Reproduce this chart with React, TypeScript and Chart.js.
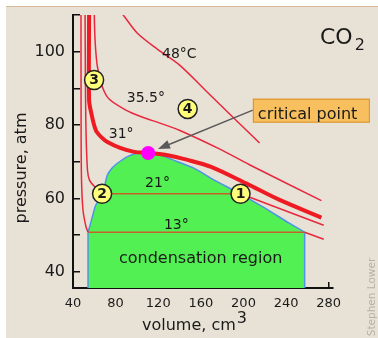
import { useEffect, useRef } from 'react';
import { Chart, registerables } from 'chart.js';

Chart.register(...registerables);

// ---- axes ----
const volumeTicks = [40, 80, 120, 160, 200, 240, 280];
const volumeRange = [40, 284];
const pressureTickValues = [40, 50, 60, 70, 80, 90, 100, 110];
const pressureLabels = [40, 60, 80, 100];
const pressureRange = [35.6, 110];

// ---- isotherms (volume cm3, pressure atm) ----
const iso48Volume = [81.4, 87.1, 100.2, 119.1, 139.8, 164.9, 189.9, 215.1];
const iso48Pressure = [111.9, 110, 105.1, 100.7, 96.4, 89.3, 82.2, 75.1];

const iso35Volume = [59.8, 60.7, 62.9, 67.6, 73.9, 89.6, 104.9, 120.9, 139.8, 177.4, 205.6, 273.1];
const iso35Pressure = [112, 103.2, 95.9, 90.4, 87.1, 84.1, 82.2, 80.6, 78.6, 73.5, 69.2, 59.4];

const iso31Volume = [55.1, 55.1, 56.9, 61.4, 67.3, 72.3, 84.9, 97.4, 110.6, 128.8, 147.6, 169.6, 202.5, 233.9, 273.1];
const iso31Pressure = [112, 86.8, 83.6, 78.6, 76.5, 75.4, 73.7, 72.7, 72.4, 71.8, 70.5, 68.6, 64.1, 59.6, 54.8];

const iso21LiquidVolume = [51.3, 51.6, 52.2, 53.6, 55.5, 60.7, 67.3];
const iso21LiquidPressure = [112, 95, 78.6, 67.7, 65, 63.1, 61.3];
const iso21TieVolume = [67.3, 197.2];
const iso21TiePressure = [61.3, 61.3];
const iso21GasVolume = [197.2, 275.3];
const iso21GasPressure = [61.3, 52.7];

const iso13LiquidVolume = [47.5, 47.6, 48.0, 49.4, 52.2, 54.1];
const iso13LiquidPressure = [112, 80, 65, 56.8, 52.3, 50.8];
const iso13TieVolume = [54.1, 257.4];
const iso13TiePressure = [50.8, 50.8];
const iso13GasVolume = [257.4, 275.3];
const iso13GasPressure = [50.8, 48.9];

// ---- coexistence dome ----
const domeVolume = [54.1, 57.7, 61.4, 67.6, 72.3, 76.7, 81.7, 91.1, 100.5, 110.6, 122.5, 138.2, 153.9, 169.6, 197.2, 218.2, 243.3, 257.4];
const domePressure = [50.8, 54.5, 58.2, 61.2, 66.4, 68.3, 69.6, 71.4, 72.3, 72.4, 71.8, 70.0, 68.2, 65.5, 61.2, 57.7, 53.2, 50.8];
const domeLeftVolume = [54.1, 54.1];
const domeRightVolume = [257.4, 257.4];
const domeEdgePressure = [34, 50.8];

// ---- marks & annotations ----
const criticalVolume = [110.6];
const criticalPressure = [72.4];

const stateNames = ['1', '2', '3', '4'];
const stateVolume = [197.2, 67.3, 59.8, 147.6];
const statePressure = [61.3, 61.3, 92.3, 84.4];

const isothermNames = ['48°C', '35.5°', '31°', '21°', '13°'];
const isothermLabelVolume = [139.8, 108.4, 85.2, 119.3, 137];
const isothermLabelPressure = [98.2, 86.4, 76.4, 63.2, 51.8];

const regionName = 'condensation region';
const regionVolume = 159.8;
const regionPressure = 42.3;

const calloutText = 'critical point';
const calloutVolume = 208.8;
const calloutPressure = 87.2;

const FONT = '"DejaVu Sans", Verdana, sans-serif';
const INK = '#1a1a1a';
const THIN_RED = '#E8283F';
const THICK_RED = '#EE1B22';
const TIE = '#C4622C';
const BLUE = '#4F95E6';
const GREEN = '#52F052';
const BEIGE = '#E8E1D6';

const pts = (xs: number[], ys: number[]) => xs.map((x, i) => ({ x, y: ys[i] }));

const lineDs = (data: any, color: string, width: number, order: number, tension = 0.3) => ({
  data,
  borderColor: color,
  borderWidth: width,
  pointRadius: 0,
  pointHoverRadius: 0,
  fill: false,
  tension,
  order,
});

const decor = {
  id: 'decor',
  beforeDraw(chart: any) {
    const { ctx, width, height } = chart;
    ctx.save();
    ctx.fillStyle = '#ffffff';
    ctx.fillRect(0, 0, width, height);
    ctx.fillStyle = BEIGE;
    ctx.fillRect(6, 6, width - 6, height - 6);
    ctx.strokeStyle = '#D6B996';
    ctx.lineWidth = 1.2;
    ctx.beginPath();
    ctx.moveTo(6, 6.5);
    ctx.lineTo(width, 6.5);
    ctx.stroke();
    ctx.restore();
  },
  afterDatasetsDraw(chart: any) {
    const { ctx } = chart;
    const xs = chart.scales.x;
    const ys = chart.scales.y;
    ctx.save();
    // isotherm labels
    ctx.fillStyle = INK;
    ctx.font = `14px ${FONT}`;
    ctx.textAlign = 'center';
    ctx.textBaseline = 'alphabetic';
    isothermNames.forEach((t, i) => {
      ctx.fillText(t, xs.getPixelForValue(isothermLabelVolume[i]), ys.getPixelForValue(isothermLabelPressure[i]));
    });
    ctx.font = `16px ${FONT}`;
    ctx.fillText(regionName, xs.getPixelForValue(regionVolume), ys.getPixelForValue(regionPressure));

    // state numbers
    ctx.font = `bold 14px ${FONT}`;
    ctx.textBaseline = 'middle';
    stateNames.forEach((t, i) => {
      ctx.fillText(t, xs.getPixelForValue(stateVolume[i]), ys.getPixelForValue(statePressure[i]) + 0.5);
    });

    // callout box + arrow
    const bx = xs.getPixelForValue(calloutVolume);
    const by = ys.getPixelForValue(calloutPressure);
    const bw = 117;
    const bh = 24;
    const sx = bx;
    const sy = by + 11.5;
    const cx = xs.getPixelForValue(criticalVolume[0]);
    const cy = ys.getPixelForValue(criticalPressure[0]);
    const dx = cx - sx;
    const dy = cy - sy;
    const len = Math.hypot(dx, dy);
    const ux = dx / len;
    const uy = dy / len;
    const tx = cx - ux * 10.5;
    const ty = cy - uy * 10.5;
    ctx.strokeStyle = '#5A5A5A';
    ctx.fillStyle = '#5A5A5A';
    ctx.lineWidth = 1.5;
    ctx.beginPath();
    ctx.moveTo(sx, sy);
    ctx.lineTo(tx - ux * 8, ty - uy * 8);
    ctx.stroke();
    const hl = 12;
    const hw = 4.5;
    ctx.beginPath();
    ctx.moveTo(tx, ty);
    ctx.lineTo(tx - ux * hl - uy * hw, ty - uy * hl + ux * hw);
    ctx.lineTo(tx - ux * hl + uy * hw, ty - uy * hl - ux * hw);
    ctx.closePath();
    ctx.fill();

    ctx.fillStyle = '#F7BF5E';
    ctx.fillRect(bx, by, bw, bh);
    ctx.strokeStyle = '#D8922C';
    ctx.lineWidth = 1;
    ctx.strokeRect(bx + 0.5, by + 0.5, bw - 1, bh - 1);
    ctx.fillStyle = INK;
    ctx.font = `16px ${FONT}`;
    ctx.textAlign = 'left';
    ctx.textBaseline = 'alphabetic';
    ctx.fillText(calloutText, bx + 5, by + 20.5);
    ctx.restore();
  },
  afterDraw(chart: any) {
    const { ctx } = chart;
    ctx.save();
    ctx.fillStyle = INK;
    // y title
    ctx.font = `16px ${FONT}`;
    ctx.translate(22, 168);
    ctx.rotate(-Math.PI / 2);
    ctx.textAlign = 'center';
    ctx.textBaseline = 'middle';
    ctx.fillText('pressure, atm', 0, 0);
    ctx.restore();

    ctx.save();
    ctx.fillStyle = INK;
    ctx.font = `16px ${FONT}`;
    ctx.textAlign = 'left';
    ctx.textBaseline = 'alphabetic';
    const main = 'volume, cm';
    const w = ctx.measureText(main).width;
    ctx.fillText(main, 142, 330);
    ctx.fillText('3', 142 + w + 1, 323);

    // CO2
    ctx.font = `22px ${FONT}`;
    ctx.fillText('CO', 320, 43.5);
    const cw = ctx.measureText('CO').width;
    ctx.font = `16px ${FONT}`;
    ctx.fillText('2', 320 + cw + 2, 50);

    // watermark
    ctx.translate(372, 297);
    ctx.rotate(-Math.PI / 2);
    ctx.fillStyle = '#B7B0A7';
    ctx.font = `10.5px ${FONT}`;
    ctx.textAlign = 'center';
    ctx.textBaseline = 'middle';
    ctx.fillText('Stephen Lower', 0, 0);
    ctx.restore();
  },
};

export default function App() {
  const ref = useRef<HTMLCanvasElement | null>(null);

  useEffect(() => {
    if (!ref.current) return;
    const chart = new Chart(ref.current, {
      type: 'line',
      data: {
        datasets: [
          // dome fill
          {
            data: pts(domeVolume, domePressure),
            borderColor: BLUE,
            borderWidth: 1.5,
            backgroundColor: GREEN,
            fill: 'start',
            pointRadius: 0,
            pointHoverRadius: 0,
            tension: 0.3,
            order: 20,
          },
          lineDs(pts(domeLeftVolume, domeEdgePressure), BLUE, 1.5, 19, 0),
          lineDs(pts(domeRightVolume, domeEdgePressure), BLUE, 1.5, 19, 0),
          lineDs(pts(iso13TieVolume, iso13TiePressure), TIE, 1.6, 15, 0),
          lineDs(pts(iso21TieVolume, iso21TiePressure), TIE, 1.6, 15, 0),
          lineDs(pts(iso13LiquidVolume, iso13LiquidPressure), THIN_RED, 1.5, 12),
          lineDs(pts(iso13GasVolume, iso13GasPressure), THIN_RED, 1.5, 12, 0),
          lineDs(pts(iso21LiquidVolume, iso21LiquidPressure), THIN_RED, 1.5, 12),
          lineDs(pts(iso21GasVolume, iso21GasPressure), THIN_RED, 1.5, 12, 0),
          lineDs(pts(iso35Volume, iso35Pressure), THIN_RED, 1.5, 12),
          lineDs(pts(iso48Volume, iso48Pressure), THIN_RED, 1.5, 12),
          lineDs(pts(iso31Volume, iso31Pressure), THICK_RED, 4, 10),
          {
            data: pts(criticalVolume, criticalPressure),
            showLine: false,
            pointRadius: 7,
            pointHoverRadius: 7,
            pointBackgroundColor: '#FF00FF',
            pointBorderWidth: 0,
            pointBorderColor: '#FF00FF',
            order: 3,
          },
          {
            data: pts(stateVolume, statePressure),
            showLine: false,
            pointRadius: 9.5,
            pointHoverRadius: 9.5,
            pointBackgroundColor: '#FFFF7A',
            pointBorderColor: '#222222',
            pointBorderWidth: 1.5,
            order: 2,
          },
        ] as any,
      },
      options: {
        animation: false,
        responsive: false,
        devicePixelRatio: 1,
        events: [],
        layout: { padding: { top: 15, right: 45, bottom: 0, left: 0 } },
        plugins: {
          legend: { display: false },
          tooltip: { enabled: false },
        },
        scales: {
          x: {
            type: 'linear',
            min: volumeRange[0],
            max: volumeRange[1],
            afterBuildTicks: (s: any) => {
              s.ticks = volumeTicks.map((value) => ({ value }));
            },
            afterFit: (s: any) => {
              s.height = 50;
              s.paddingLeft = 0;
              s.paddingRight = 0;
            },
            grid: {
              display: true,
              drawOnChartArea: false,
              drawTicks: true,
              tickLength: -6,
              color: '#111',
              lineWidth: 1.5,
            },
            border: { display: true, color: '#111', width: 2 },
            ticks: {
              color: INK,
              font: { family: FONT, size: 13 },
              padding: 13.5,
              maxRotation: 0,
              autoSkip: false,
              callback: (v: any) => String(v),
            },
          },
          y: {
            type: 'linear',
            min: pressureRange[0],
            max: pressureRange[1],
            afterBuildTicks: (s: any) => {
              s.ticks = pressureTickValues.map((value) => ({ value }));
            },
            afterFit: (s: any) => {
              s.width = 73;
              s.paddingTop = 0;
              s.paddingBottom = 0;
            },
            grid: {
              display: true,
              drawOnChartArea: false,
              drawTicks: true,
              tickLength: -7,
              color: '#111',
              lineWidth: 1.5,
            },
            border: { display: true, color: '#111', width: 2 },
            ticks: {
              color: INK,
              font: { family: FONT, size: 16 },
              padding: 15,
              autoSkip: false,
              callback: (v: any) => (pressureLabels.includes(Number(v)) ? String(v) : ''),
            },
          },
        },
      } as any,
      plugins: [decor as any],
    });
    return () => chart.destroy();
  }, []);

  return (
    <div style={{ position: 'fixed', left: 0, top: 0, width: 378, height: 338 }}>
      <canvas ref={ref} width={378} height={338} style={{ width: 378, height: 338, display: 'block' }} />
    </div>
  );
}
